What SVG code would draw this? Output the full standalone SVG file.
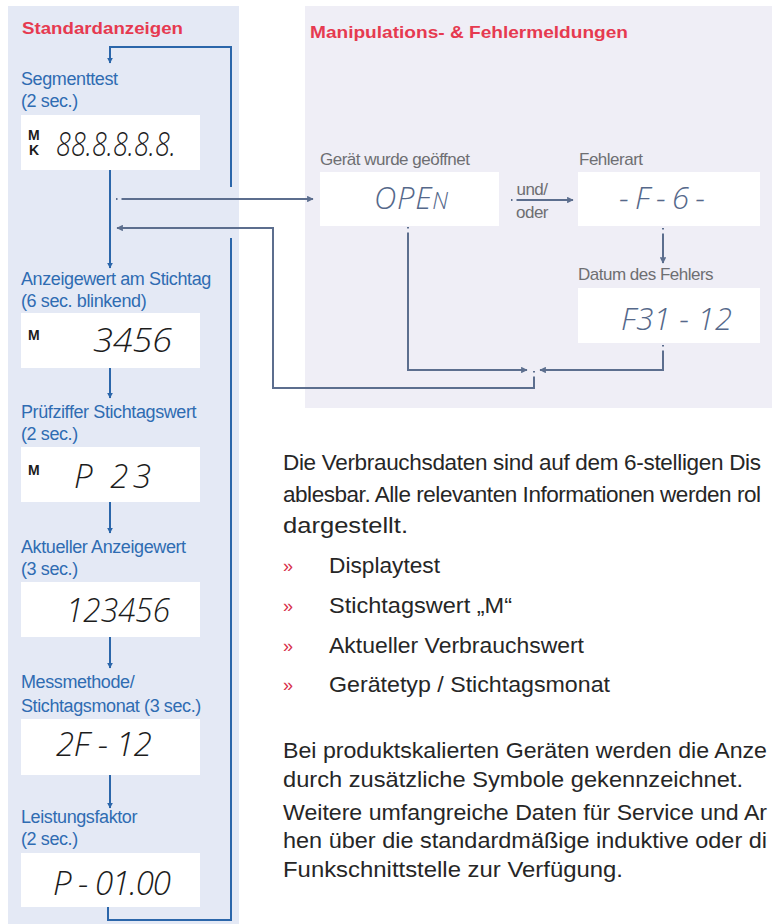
<svg xmlns="http://www.w3.org/2000/svg" width="772" height="924" viewBox="0 0 772 924">
<defs>
<style>
.title{font-family:"Liberation Sans",Arial,sans-serif;font-weight:bold;font-size:17px;fill:#e63a50}
.lbl{font-family:"Liberation Sans",Arial,sans-serif;font-size:18px;fill:#2f6cb2;letter-spacing:-0.4px}
.glbl{font-family:"Liberation Sans",Arial,sans-serif;font-size:17px;fill:#6e6e72;letter-spacing:-0.5px}
.box{fill:#ffffff}
.seg{font-family:"Open Sans","DejaVu Sans",sans-serif;font-style:italic;font-weight:300;font-size:33px;fill:#1c1c1c}
.segg{font-family:"Open Sans","DejaVu Sans",sans-serif;font-style:italic;font-weight:300;font-size:31px;fill:#55688a}
.mk{font-family:"Liberation Sans",Arial,sans-serif;font-weight:bold;font-size:14px;fill:#1c1c1c}
.body{font-family:"Liberation Sans",Arial,sans-serif;font-size:22.5px;fill:#262626}
.bul{font-family:"Liberation Sans",Arial,sans-serif;font-size:18px;fill:#d8304a}
.blue{fill:none;stroke:#2b66aa;stroke-width:2}
.grey{fill:none;stroke:#5c6e8e;stroke-width:2;stroke-dasharray:1.5 4 3000}
</style>
<marker id="ab" viewBox="0 0 10 10" refX="9" refY="5" markerWidth="6" markerHeight="6" markerUnits="userSpaceOnUse" orient="auto"><path d="M0,0 L10,5 L0,10 z" fill="#2b66aa"/></marker>
<marker id="ag" viewBox="0 0 10 10" refX="9" refY="5" markerWidth="6.5" markerHeight="6.5" markerUnits="userSpaceOnUse" orient="auto"><path d="M0,0 L10,5 L0,10 z" fill="#5c6e8e"/></marker>
</defs>

<rect x="0" y="0" width="772" height="924" fill="#ffffff"/>
<rect id="panel-left" x="8" y="6" width="231" height="918" fill="#e4e9f5"/>
<rect id="panel-right" x="305" y="6" width="467" height="402" fill="#efeef6"/>

<text class="title" x="22" y="34" textLength="161" lengthAdjust="spacingAndGlyphs">Standardanzeigen</text>
<text class="title" x="310" y="38" textLength="318" lengthAdjust="spacingAndGlyphs">Manipulations- &amp; Fehlermeldungen</text>

<g id="connectors">
<path class="blue" d="M231,187 V47 H110 V63" marker-end="url(#ab)"/>
<path class="blue" d="M231,238 V920 H108 V907"/>
<path class="blue" d="M110,170 V268" marker-end="url(#ab)"/>
<path class="blue" d="M110,368 V398" marker-end="url(#ab)"/>
<path class="blue" d="M110,502 V533" marker-end="url(#ab)"/>
<path class="blue" d="M110,637 V668" marker-end="url(#ab)"/>
<path class="blue" d="M110,775 V808" marker-end="url(#ab)"/>
<path class="grey" d="M116,199 H313" marker-end="url(#ag)"/>
<path class="grey" d="M534,371 V388 H273 V228 H117" marker-end="url(#ag)"/>
<path class="grey" d="M511,200 H573" marker-end="url(#ag)"/>
<path class="grey" d="M663,228 V263" marker-end="url(#ag)"/>
<path class="grey" d="M408,227 V370 H527" marker-end="url(#ag)"/>
<path class="grey" d="M663,345 V370 H540" marker-end="url(#ag)"/>
</g>

<g id="node-segmenttest">
<text class="lbl" x="21" y="85">Segmenttest</text>
<text class="lbl" x="21" y="107">(2 sec.)</text>
<rect class="box" x="21" y="115" width="179" height="55"/>
<text class="mk" x="28" y="140">M</text>
<text class="mk" x="29" y="155">K</text>
<text class="seg" x="56" y="156" textLength="120" lengthAdjust="spacingAndGlyphs">88.8.8.8.8.</text>
</g>

<g id="node-stichtag">
<text class="lbl" x="21" y="285">Anzeigewert am Stichtag</text>
<text class="lbl" x="21" y="307">(6 sec. blinkend)</text>
<rect class="box" x="21" y="313" width="179" height="55"/>
<text class="mk" x="28" y="340">M</text>
<text class="seg" x="93" y="352" textLength="79" lengthAdjust="spacingAndGlyphs">3456</text>
</g>

<g id="node-pruefziffer">
<text class="lbl" x="21" y="418">Prüfziffer Stichtagswert</text>
<text class="lbl" x="21" y="440">(2 sec.)</text>
<rect class="box" x="21" y="447" width="179" height="55"/>
<text class="mk" x="28" y="475">M</text>
<text class="seg" x="74" y="488" textLength="77" lengthAdjust="spacing">P  23</text>
</g>

<g id="node-aktuell">
<text class="lbl" x="21" y="553">Aktueller Anzeigewert</text>
<text class="lbl" x="21" y="575">(3 sec.)</text>
<rect class="box" x="21" y="582" width="179" height="55"/>
<text class="seg" x="66" y="622" textLength="104" lengthAdjust="spacingAndGlyphs">123456</text>
</g>

<g id="node-messmethode">
<text class="lbl" x="21" y="688">Messmethode/</text>
<text class="lbl" x="21" y="712">Stichtagsmonat (3 sec.)</text>
<rect class="box" x="21" y="719" width="179" height="56"/>
<text class="seg" x="56" y="756" textLength="96" lengthAdjust="spacing">2F - 12</text>
</g>

<g id="node-leistung">
<text class="lbl" x="21" y="823">Leistungsfaktor</text>
<text class="lbl" x="21" y="845">(2 sec.)</text>
<rect class="box" x="21" y="853" width="179" height="54"/>
<text class="seg" x="53" y="895" textLength="118" lengthAdjust="spacing">P - 01.00</text>
</g>

<g id="node-open">
<text class="glbl" x="320" y="165">Gerät wurde geöffnet</text>
<rect class="box" x="320" y="172" width="179" height="54"/>
<text class="segg" x="374" y="209" textLength="74" lengthAdjust="spacing">OPE<tspan font-size="23">N</tspan></text>
</g>

<g id="label-undoder">
<text class="glbl" x="532" y="195" text-anchor="middle" font-size="14.5" letter-spacing="0">und/</text>
<text class="glbl" x="532" y="218" text-anchor="middle" font-size="14.5" letter-spacing="0">oder</text>
</g>

<g id="node-fehlerart">
<text class="glbl" x="579" y="165">Fehlerart</text>
<rect class="box" x="578" y="172" width="182" height="54"/>
<text class="segg" x="619" y="209" textLength="86" lengthAdjust="spacing">- F - 6 -</text>
</g>

<g id="node-datum">
<text class="glbl" x="578" y="280">Datum des Fehlers</text>
<rect class="box" x="578" y="288" width="182" height="55"/>
<text class="segg" x="621" y="330" textLength="111" lengthAdjust="spacing">F31 - 12</text>
</g>

<g id="description">
<text class="body" x="283" y="470" font-size="21.5" textLength="478" lengthAdjust="spacing">Die Verbrauchsdaten sind auf dem 6-stelligen Dis</text>
<text class="body" x="283" y="502" font-size="21.5" textLength="478" lengthAdjust="spacing">ablesbar. Alle relevanten Informationen werden rol</text>
<text class="body" x="283" y="533" textLength="125" lengthAdjust="spacingAndGlyphs">dargestellt.</text>
<text class="bul" x="283" y="572">»</text>
<text class="body" x="329" y="573" textLength="111" lengthAdjust="spacingAndGlyphs">Displaytest</text>
<text class="bul" x="283" y="612">»</text>
<text class="body" x="329" y="613" textLength="183" lengthAdjust="spacingAndGlyphs">Stichtagswert „M“</text>
<text class="bul" x="283" y="652">»</text>
<text class="body" x="329" y="653" textLength="255" lengthAdjust="spacingAndGlyphs">Aktueller Verbrauchswert</text>
<text class="bul" x="283" y="691">»</text>
<text class="body" x="329" y="692" textLength="281" lengthAdjust="spacingAndGlyphs">Gerätetyp / Stichtagsmonat</text>
<text class="body" x="283" y="758" textLength="484" lengthAdjust="spacingAndGlyphs">Bei produktskalierten Geräten werden die Anze</text>
<text class="body" x="283" y="787" textLength="460" lengthAdjust="spacingAndGlyphs">durch zusätzliche Symbole gekennzeichnet.</text>
<text class="body" x="283" y="820" textLength="484" lengthAdjust="spacingAndGlyphs">Weitere umfangreiche Daten für Service und Ar</text>
<text class="body" x="283" y="848" textLength="484" lengthAdjust="spacingAndGlyphs">hen über die standardmäßige induktive oder di</text>
<text class="body" x="283" y="877" textLength="340" lengthAdjust="spacingAndGlyphs">Funkschnittstelle zur Verfügung.</text>
</g>
</svg>
